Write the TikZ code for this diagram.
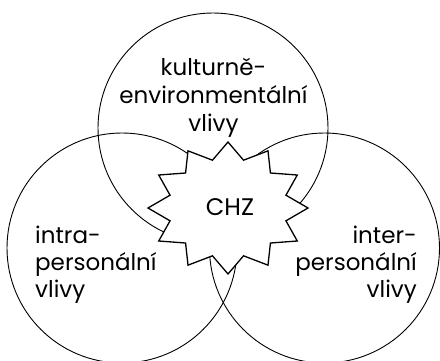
\documentclass[tikz,border=0pt]{standalone}
\usepackage{fontspec}
\setmainfont{Poppins}
\begin{document}
\begin{tikzpicture}[x=1pt,y=-1pt,
  ring/.style={draw=black,line width=0.9pt},
  starline/.style={draw=black,fill=white,line width=1.3pt,line join=miter},
  lbl/.style={font=\fontsize{23}{28}\selectfont,inner sep=0pt}]
\useasboundingbox (0,0) rectangle (440,360);
\clip (0,0) rectangle (440,360);
\coordinate (ct) at (213,128);
\coordinate (cl) at (122,248);
\coordinate (cr) at (324.5,248);
\draw[ring] (ct) circle[radius=115];
\draw[ring] (cl) circle[radius=115];
\draw[ring] (cr) circle[radius=115];
\path[starline] (308,208) \foreach \i in {1,...,23}{ -- ({228+(70+10*cos(180*\i))*cos(15*\i)},{208-(57.75+8.25*cos(180*\i))*sin(15*\i)}) } -- cycle;
\node[lbl,font=\fontsize{24}{28}\selectfont,anchor=base] (chz) at (230,215) {CHZ};
\node[lbl,anchor=base] (k1) at (213.5,75) {kulturně-};
\node[lbl,anchor=base] (k2) at (213.5,103) {environmentální};
\node[lbl,anchor=base] (k3) at (213.5,131) {vlivy};
\node[lbl,anchor=base west] (a1) at (35,243) {intra-};
\node[lbl,anchor=base west] (a2) at (35,270) {personální};
\node[lbl,anchor=base west] (a3) at (35,297) {vlivy};
\node[lbl,anchor=base east] (b1) at (417,243) {inter-};
\node[lbl,anchor=base east] (b2) at (417,270) {personální};
\node[lbl,anchor=base east] (b3) at (417,297) {vlivy};
\end{tikzpicture}
\end{document}
